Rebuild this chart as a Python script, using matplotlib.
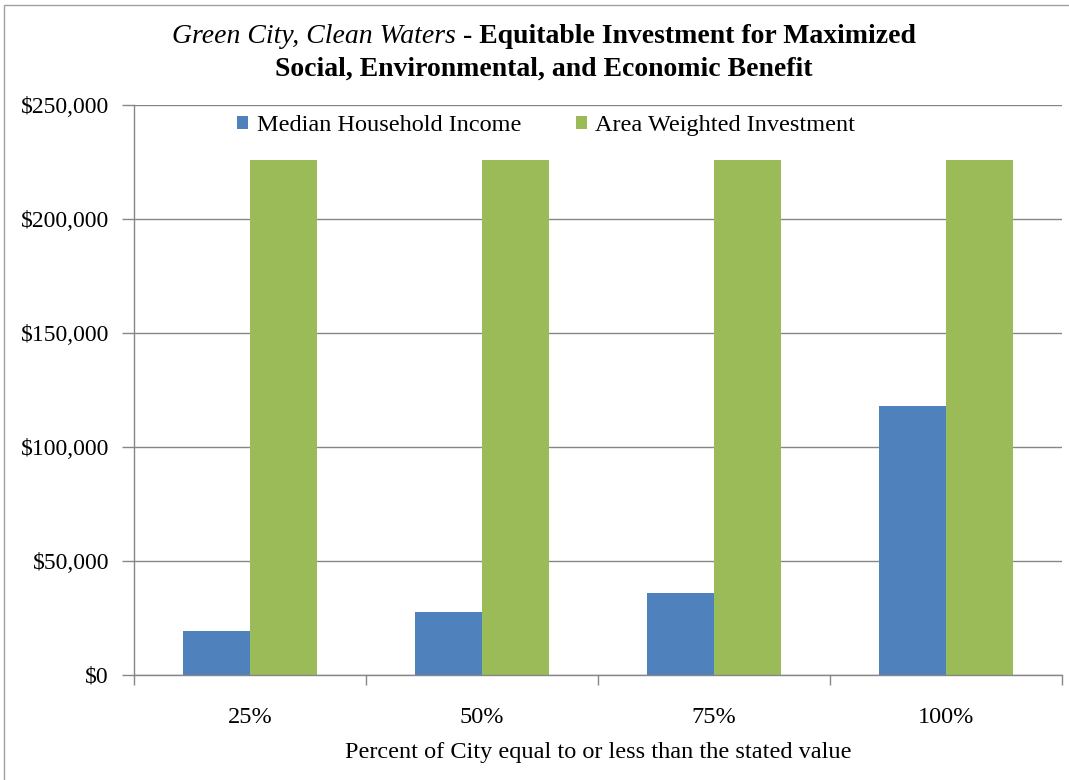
"""Median household income vs area weighted investment bar chart."""

import numpy as np
import matplotlib.pyplot as plt
from matplotlib.patches import Rectangle
from matplotlib.ticker import FuncFormatter

plt.rcParams['font.family'] = ['Liberation Serif', 'DejaVu Serif']

# data
categories = ['25%', '50%', '75%', '100%']
median_income = [19300, 27600, 36000, 118000]
area_investment = [226000, 226000, 226000, 226000]
series_names = ['Median Household Income', 'Area Weighted Investment']

blue = '#4f81bd'
green = '#9bbb59'
grey = '#868686'

fig = plt.figure(figsize=(10.69, 7.80), dpi=100)
ax = fig.add_axes([134 / 1069, 1 - 675 / 780, 928 / 1069, 570 / 780])

x = np.arange(len(categories))
w = 0.289
ax.bar(x - w / 2, median_income, w, color=blue, label=series_names[0])
ax.bar(x + w / 2, area_investment, w, color=green, label=series_names[1])

ax.set_xlim(-0.5, len(categories) - 0.5)
ax.set_ylim(0, 250000)
ax.set_yticks(np.arange(0, 250001, 50000))
ax.yaxis.set_major_formatter(FuncFormatter(lambda v, p: '${:,.0f}'.format(v)))
ax.grid(axis='y', color=grey, linewidth=1)
ax.set_axisbelow(True)

# category ticks sit between groups, labels at group centres
ax.set_xticks(np.arange(-0.5, len(categories)), minor=False)
ax.set_xticklabels([''] * (len(categories) + 1))
ax.set_xticks(x, minor=True)
ax.set_xticklabels(categories, minor=True, fontsize=17.5)
ax.tick_params(axis='x', which='minor', length=0, pad=23)
ax.tick_params(axis='x', which='major', length=7, color=grey, width=1)
ax.tick_params(axis='y', length=9, color=grey, width=1, labelsize=17, pad=9)

for s in ['top', 'right']:
  ax.spines[s].set_visible(False)
for s in ['left', 'bottom']:
  ax.spines[s].set_color(grey)
  ax.spines[s].set_linewidth(1)

ax.set_xlabel('Percent of City equal to or less than the stated value',
              fontsize=17.5, labelpad=10)

ax.legend(loc='upper center', bbox_to_anchor=(0.444, 1.02), ncol=2, frameon=False,
          fontsize=17.5, handlelength=0.45, handleheight=0.45, handletextpad=0.35,
          columnspacing=2.25)

# title: italic part + bold part on one line
fig.canvas.draw()
r = fig.canvas.get_renderer()
t1 = fig.text(0, 1 - 43 / 780, 'Green City, Clean Waters', fontsize=20,
              style='italic', va='baseline')
t2 = fig.text(0, 1 - 43 / 780, ' - Equitable Investment for Maximized',
              fontsize=20, weight='bold', va='baseline')
w1 = t1.get_window_extent(r).width
w2 = t2.get_window_extent(r).width
start = 544 - (w1 + w2) / 2
t1.set_x(start / 1069)
t2.set_x((start + w1) / 1069)
fig.text(544 / 1069, 1 - 76 / 780, 'Social, Environmental, and Economic Benefit',
         fontsize=20, weight='bold', ha='center', va='baseline')

fig.patches.append(Rectangle((4 / 1069, -0.1), 1.2, 1 - 5 / 780 + 0.1,
                             transform=fig.transFigure, fill=False,
                             edgecolor='#a0a0a0', linewidth=1))

fig.savefig('out.png', dpi=100)
